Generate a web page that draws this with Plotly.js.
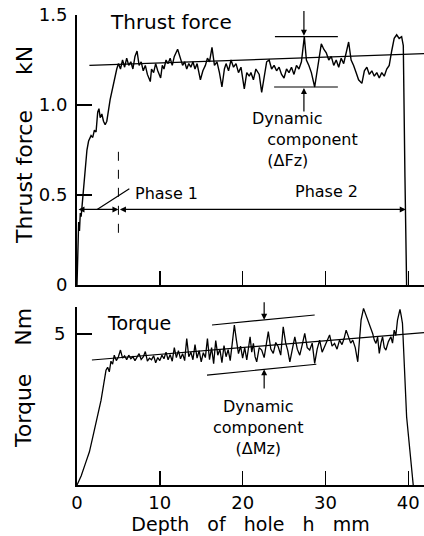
<!DOCTYPE html>
<html><head><meta charset="utf-8">
<script src="https://cdn.plot.ly/plotly-3.0.1.min.js"></script>
<style>html,body{margin:0;padding:0;background:#fff}</style>
</head><body>
<div id="chart" style="width:424px;height:536px"></div>
<script>
// ---- data ----
const depthThrust = [0,0.1,0.2,0.3,0.4,0.5,0.6,0.8,1.0,1.2,1.4,1.7,1.9,2.1,2.3,2.5,2.65,2.8,3.0,3.2,3.4,3.6,4.0,4.4,4.8,
 5.0,5.25,5.5,5.75,6.0,6.25,6.5,6.75,7.0,7.25,7.5,7.75,8.0,8.25,8.5,8.85,9.0,9.25,9.5,9.75,10.1,10.3,10.5,10.75,11.0,11.25,11.5,11.75,12.15,12.5,12.75,13.0,13.25,13.5,13.75,14.0,14.25,14.5,14.9,15.2,15.5,15.75,16.0,16.3,16.6,16.9,17.2,17.5,17.8,18.0,18.3,18.6,18.9,19.2,19.5,19.8,20.2,20.5,20.8,21.0,21.3,21.6,22.0,22.3,22.6,22.9,23.2,23.5,23.8,24.1,24.4,24.7,25.0,25.3,25.6,25.9,26.2,26.5,26.8,27.1,27.45,27.7,28.0,28.3,28.7,29.1,29.5,29.8,30.1,30.4,30.7,31.0,31.3,31.6,31.9,32.2,32.5,32.8,33.1,33.4,33.7,34.0,34.4,34.7,35.0,35.3,35.6,35.9,36.2,36.5,36.8,37.1,37.4,37.7,38.0,38.3,38.6,38.9,39.2,39.4,39.6,39.8,40.2,40.6];
const thrustKN = [0,0.20,0.35,0.30,0.40,0.38,0.43,0.53,0.63,0.75,0.80,0.83,0.82,0.86,0.85,0.96,0.98,0.93,0.95,0.91,0.89,0.91,1.03,1.12,1.20,
 1.23,1.20,1.25,1.21,1.26,1.22,1.24,1.20,1.27,1.30,1.22,1.24,1.19,1.22,1.17,1.13,1.20,1.18,1.23,1.19,1.15,1.22,1.20,1.25,1.23,1.26,1.22,1.27,1.31,1.25,1.22,1.24,1.20,1.23,1.21,1.24,1.20,1.23,1.14,1.19,1.22,1.26,1.24,1.32,1.22,1.24,1.18,1.10,1.20,1.23,1.19,1.25,1.21,1.23,1.18,1.21,1.09,1.18,1.16,1.18,1.14,1.20,1.17,1.07,1.16,1.24,1.25,1.20,1.22,1.19,1.21,1.17,1.15,1.20,1.18,1.21,1.17,1.22,1.20,1.24,1.38,1.25,1.22,1.18,1.10,1.22,1.34,1.31,1.29,1.25,1.27,1.22,1.25,1.21,1.26,1.23,1.29,1.35,1.25,1.22,1.18,1.14,1.12,1.19,1.21,1.17,1.19,1.16,1.18,1.15,1.18,1.16,1.20,1.22,1.30,1.37,1.39,1.37,1.38,1.33,0.60,0];
const depthTorque = [0,0.5,1.0,1.5,2.0,2.5,2.9,3.2,3.5,3.7,3.9,4.1,4.3,
 4.5,4.75,5.0,5.25,5.5,5.75,6.0,6.25,6.5,6.75,7.0,7.25,7.5,7.75,8.0,8.25,8.5,8.75,9.0,9.25,9.5,9.75,10.0,10.25,10.5,10.75,11.0,11.25,11.5,11.75,12.0,12.25,12.5,12.75,13.0,13.25,13.5,13.75,14.0,14.25,14.5,14.75,15.0,15.25,15.5,15.75,16.0,16.25,16.5,16.75,17.0,17.25,17.5,17.75,18.0,18.25,18.5,18.75,19.0,19.25,19.5,19.75,
 20.0,20.25,20.5,20.75,20.9,21.1,21.3,21.5,21.7,22.0,22.3,22.6,22.85,23.1,23.4,23.7,24.0,24.3,24.6,24.9,25.2,25.45,25.7,26.0,26.3,26.6,26.9,27.2,27.5,27.8,28.1,28.4,28.7,29.0,29.3,29.6,29.9,30.2,30.5,30.8,31.1,31.4,31.7,32.0,32.25,32.5,32.8,33.05,33.3,33.6,33.9,34.1,34.3,34.6,34.9,35.1,35.3,35.5,35.7,35.9,36.1,36.3,36.5,36.7,36.9,37.1,37.3,37.6,37.9,38.1,38.3,38.5,38.7,38.9,39.0,39.15,39.3,39.8,40.6];
const torqueNm = [0,0.3,0.7,1.1,1.7,2.3,2.8,3.3,3.8,3.9,3.75,4.1,4.0,
 4.30,4.12,4.25,4.47,4.20,4.28,4.15,4.30,4.18,4.25,4.12,4.22,4.35,4.16,4.24,4.42,4.10,4.20,4.15,4.28,4.05,4.22,4.12,4.30,4.18,4.40,4.15,4.32,4.10,4.55,4.22,4.45,4.18,4.35,4.12,4.85,4.25,4.40,4.15,4.65,4.20,4.45,4.08,4.38,4.22,4.85,4.15,4.55,4.02,4.78,4.30,4.50,4.05,4.62,4.25,4.48,4.12,4.70,5.30,4.80,4.35,4.60,
 4.20,4.55,4.14,4.62,4.91,4.40,4.69,4.25,4.08,4.55,4.47,4.22,4.70,5.08,4.50,4.36,4.72,4.58,4.30,5.24,4.70,4.45,4.08,4.55,4.91,4.50,4.30,4.65,5.02,4.55,4.47,4.70,4.03,4.50,4.80,4.40,4.58,4.75,4.97,4.60,4.69,4.50,4.80,4.65,4.85,5.13,4.85,4.70,4.80,4.55,4.08,4.90,5.46,5.85,5.63,5.45,5.30,5.15,5.02,4.80,4.69,4.90,4.36,4.70,4.91,4.55,4.47,4.75,4.91,4.70,5.13,4.95,5.46,5.70,5.82,5.60,5.35,2.26,0];
const thrustMeanX = [1.5, 41.9];
const thrustMeanY = [1.22, 1.285];
const torqueMeanX = [1.8, 41.9];
const torqueMeanY = [4.14, 5.05];
const xTickVals = [0, 10, 20, 30, 40];
const xTickText = ['0', '10', '20', '30', '40'];
const thrustTickVals = [0, 0.5, 1.0, 1.5];
const thrustTickText = ['0', '0.5', '1.0', '1.5'];
const torqueTickVals = [5];
const torqueTickText = ['5'];

// ---- drawing ----
const K = '#000';
const FONT = 'DejaVu Sans';
const nb = n => '\u00a0'.repeat(n);

const traces = [
  {x: depthThrust, y: thrustKN, xaxis: 'x', yaxis: 'y', type: 'scatter', mode: 'lines',
   line: {color: K, width: 1.4}, hoverinfo: 'skip'},
  {x: thrustMeanX, y: thrustMeanY, xaxis: 'x', yaxis: 'y', type: 'scatter', mode: 'lines',
   line: {color: K, width: 1.2}, hoverinfo: 'skip'},
  {x: depthTorque, y: torqueNm, xaxis: 'x2', yaxis: 'y2', type: 'scatter', mode: 'lines',
   line: {color: K, width: 1.3}, hoverinfo: 'skip'},
  {x: torqueMeanX, y: torqueMeanY, xaxis: 'x2', yaxis: 'y2', type: 'scatter', mode: 'lines',
   line: {color: K, width: 1.2}, hoverinfo: 'skip'}
];

const axBase = {showline: true, linecolor: K, linewidth: 2, showgrid: false, zeroline: false,
  ticks: 'inside', tickcolor: K, tickwidth: 1.5, fixedrange: true,
  tickfont: {family: FONT, size: 18, color: K}};

function arrow(xr, yr, x, y, ax, ay, side) {
  return {xref: xr, yref: yr, axref: xr, ayref: yr, x: x, y: y, ax: ax, ay: ay, text: '',
    showarrow: true, arrowhead: 2, arrowsize: 1, arrowwidth: 1.2, arrowcolor: K,
    arrowside: side || 'end'};
}
function label(xr, yr, x, y, text, size, xanchor, align) {
  return {xref: xr, yref: yr, x: x, y: y, text: text, showarrow: false,
    xanchor: xanchor || 'left', yanchor: 'middle', align: align || 'left',
    font: {family: FONT, size: size, color: K}};
}
function yTitle(y, text) {
  return {xref: 'paper', yref: 'paper', x: -0.153, y: y, text: text, textangle: -90,
    showarrow: false, xanchor: 'center', yanchor: 'middle',
    font: {family: FONT, size: 22, color: K}};
}

const layout = {
  width: 424, height: 536,
  margin: {l: 77, r: 0, t: 15, b: 51},
  paper_bgcolor: '#fff', plot_bgcolor: '#fff',
  showlegend: false,
  font: {family: FONT, color: K},
  xaxis: Object.assign({}, axBase, {domain: [0, 1], anchor: 'y', range: [0, 41.9],
    tickvals: [10, 20, 30, 40], showticklabels: false, ticklen: 14}),
  yaxis: Object.assign({}, axBase, {domain: [0.4255, 1], anchor: 'x', range: [0, 1.5],
    tickvals: thrustTickVals, ticktext: thrustTickText, ticklen: 15, ticklabelstandoff: 4}),
  xaxis2: Object.assign({}, axBase, {domain: [0, 1], anchor: 'y2', range: [0, 41.9],
    tickvals: xTickVals, ticktext: xTickText, ticklen: 14, ticklabelstandoff: 0,
    title: {text: 'Depth' + nb(3) + 'of' + nb(3) + 'hole' + nb(3) + 'h' + nb(3) + 'mm',
      font: {family: FONT, size: 19, color: K}, standoff: 2}}),
  yaxis2: Object.assign({}, axBase, {domain: [0, 0.379], anchor: 'x2', range: [0, 5.9],
    tickvals: torqueTickVals, ticktext: torqueTickText, ticklen: 15, ticklabelstandoff: 6}),
  shapes: [
    {type: 'line', xref: 'x', yref: 'y', x0: 5, x1: 5, y0: 0.29, y1: 0.77, line: {color: K, width: 1, dash: 'dash'}},
    {type: 'line', xref: 'x', yref: 'y', x0: 23.9, x1: 31.5, y0: 1.38, y1: 1.38, line: {color: K, width: 1.2}},
    {type: 'line', xref: 'x', yref: 'y', x0: 23.8, x1: 31.5, y0: 1.10, y1: 1.10, line: {color: K, width: 1.2}},
    {type: 'line', xref: 'x2', yref: 'y2', x0: 16.3, x1: 28.7, y0: 5.3, y1: 5.63, line: {color: K, width: 1.2}},
    {type: 'line', xref: 'x2', yref: 'y2', x0: 15.7, x1: 28.9, y0: 3.64, y1: 4.0, line: {color: K, width: 1.2}}
  ],
  annotations: [
    yTitle(0.7234, 'Thrust force' + nb(5) + 'kN'),
    yTitle(0.2277, 'Torque' + nb(4) + 'Nm'),
    label('x', 'y', 3.7, 1.46, 'Thrust force', 20),
    label('x2', 'y2', 3.4, 5.36, 'Torque', 19),
    label('x', 'y', 20.9, 0.81, 'Dynamic<br>' + nb(3) + 'component<br>' + nb(3) + '(ΔFz)', 16),
    label('x2', 'y2', 21.9, 1.92, 'Dynamic<br>component<br>(ΔMz)', 16, 'center', 'center'),
    label('x', 'y', 6.8, 0.51, 'Phase 1', 16),
    label('x', 'y', 30.1, 0.52, 'Phase 2', 16, 'center', 'center'),
    arrow('x', 'y', 5.0, 0.42, 0, 0.42, 'end+start'),
    arrow('x', 'y', 39.7, 0.42, 5.0, 0.42, 'end+start'),
    Object.assign(arrow('x', 'y', 2.43, 0.42, 6.5, 0.54), {arrowhead: 0}),
    arrow('x', 'y', 27.4, 1.385, 27.4, 1.53),
    arrow('x', 'y', 27.4, 1.095, 27.4, 0.955),
    arrow('x2', 'y2', 22.6, 5.47, 22.6, 6.1),
    arrow('x2', 'y2', 22.6, 3.83, 22.6, 3.15)
  ]
};

Plotly.newPlot('chart', traces, layout, {displayModeBar: false, staticPlot: true});
</script>
</body></html>
